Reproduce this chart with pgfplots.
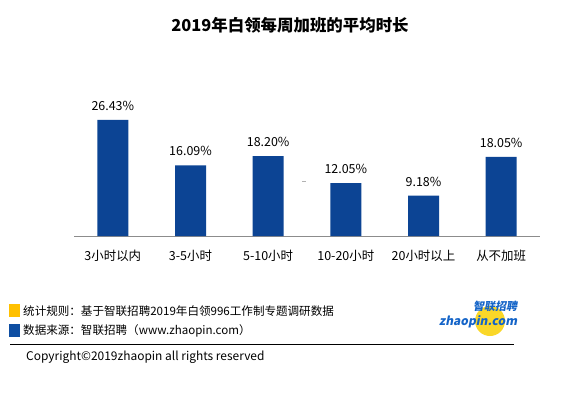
\documentclass[border=0pt]{standalone}
\usepackage{pgfplots}
\pgfplotsset{compat=1.18}
\usepackage{fontspec}
\setmainfont{Noto Sans CJK SC}
\definecolor{barblue}{RGB}{12,68,148}
\definecolor{sqyellow}{RGB}{255,192,0}
\definecolor{sqblue}{RGB}{14,78,162}
\definecolor{logoblue}{RGB}{20,100,200}
\definecolor{logoyellow}{RGB}{250,215,40}
\begin{document}
\begin{tikzpicture}[x=1bp,y=1bp]
\fill[white] (0,0) rectangle (580,397);
\path[use as bounding box] (0,0) rectangle (580,397);
% title
\node[font=\fontsize{16.5}{19}\selectfont\bfseries] at (290,372) {2019年白领每周加班的平均时长};
\begin{axis}[
  at={(74bp,161bp)}, anchor=south west,
  scale only axis, width=466bp, height=131.7bp,
  xmin=-0.5, xmax=5.5, ymin=0, ymax=30,
  axis x line*=bottom, axis y line=none,
  x axis line style={draw=black!45, line width=0.9pt, -},
  xtick=data,
  xticklabels={3小时以内,3-5小时,5-10小时,10-20小时,20小时以上,从不加班},
  major tick length=0pt,
  xticklabel style={font=\fontsize{12.5}{15}\selectfont, yshift=-11bp},
  ybar, bar width=31bp,
  nodes near coords={\pgfmathprintnumber[fixed,fixed zerofill,precision=2,assume math mode=true]{\pgfplotspointmeta}\%},
  every node near coord/.append style={font=\fontsize{12.5}{15}\selectfont, yshift=6bp},
  clip=false,
]
\addplot[fill=barblue, draw=none] coordinates {(0,26.43) (1,16.09) (2,18.20) (3,12.05) (4,9.18) (5,18.05)};
\end{axis}
\draw[black!30, line width=0.6pt] (302,216) -- (306,216);
% footer
\fill[sqyellow] (9,80) rectangle (20,93);
\fill[sqblue] (9,60) rectangle (20,73);
\node[anchor=west, font=\fontsize{11.6}{14}\selectfont, inner sep=0] at (23,86) {统计规则：基于智联招聘2019年白领996工作制专题调研数据};
\node[anchor=west, font=\fontsize{11.6}{14}\selectfont, inner sep=0] at (23,66.5) {数据来源：智联招聘（www.zhaopin.com）};
\draw[black, line width=0.8pt] (10,53) -- (514,53);
\node[anchor=west, font=\fontsize{12}{14}\selectfont, inner sep=0] at (26,40) {Copyright©2019zhaopin all rights reserved};
% logo
\fill[logoyellow] (490,76) circle (15);
\node[anchor=east, font=\fontsize{11}{13}\selectfont\bfseries, text=logoblue, xslant=0.2, inner sep=0] at (518,91) {智联招聘};
\node[anchor=east, font=\fontsize{12}{14}\selectfont\bfseries, text=logoblue, xslant=0.2, inner sep=0] at (518,75) {zhaopin.com};
\end{tikzpicture}
\end{document}
